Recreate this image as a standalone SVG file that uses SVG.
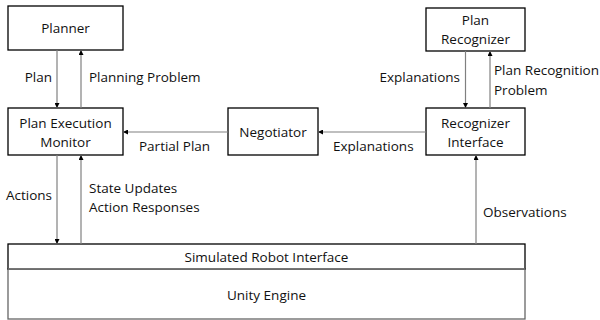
<svg xmlns="http://www.w3.org/2000/svg" width="600" height="320" viewBox="0 0 600 320">
<style>
.box{fill:#fff;stroke:#000;stroke-width:1.3}
.t{font-family:"Open Sans","Liberation Sans",sans-serif;font-size:13.5px;fill:#111}
.c{text-anchor:middle}
.ln{stroke:#808080;stroke-width:1.2;fill:none;marker-end:url(#ah)}
</style>
<defs>
<marker id="ah" viewBox="0 0 6 6" refX="6" refY="3" markerWidth="5" markerHeight="5" markerUnits="userSpaceOnUse" orient="auto">
<path d="M0,0 L6,3 L0,6 Z" fill="#000"/>
</marker>
</defs>
<g id="planner"><rect class="box" x="8" y="6" width="115" height="44"/><text class="t c" x="65.5" y="33">Planner</text></g>
<g id="pem"><rect class="box" x="8" y="108" width="115" height="47"/><text class="t c" x="65.5" y="128">Plan Execution</text><text class="t c" x="65.5" y="147">Monitor</text></g>
<g id="negotiator"><rect class="box" x="228" y="108" width="90" height="47"/><text class="t c" x="273" y="137">Negotiator</text></g>
<g id="recognizer-interface"><rect class="box" x="426" y="108" width="99" height="47"/><text class="t c" x="475.5" y="128">Recognizer</text><text class="t c" x="475.5" y="147">Interface</text></g>
<g id="plan-recognizer"><rect class="box" x="426" y="8" width="99" height="43"/><text class="t c" x="475.5" y="25">Plan</text><text class="t c" x="475.5" y="44">Recognizer</text></g>
<g id="robot"><rect x="8" y="269" width="517" height="50" fill="#fff" stroke="#666" stroke-width="1.3"/><rect class="box" x="8" y="244" width="517" height="25"/><line x1="8" y1="269" x2="525" y2="269" stroke="#808080" stroke-width="1.3"/><text class="t c" x="266.5" y="262">Simulated Robot Interface</text><text class="t c" x="266.5" y="300">Unity Engine</text></g>
<g id="connectors">
<line class="ln" x1="57" y1="50" x2="57" y2="108"/>
<line class="ln" x1="81" y1="108" x2="81" y2="50"/>
<line class="ln" x1="228" y1="132" x2="123" y2="132"/>
<line class="ln" x1="426" y1="132" x2="318" y2="132"/>
<line class="ln" x1="465.5" y1="51" x2="465.5" y2="108"/>
<line class="ln" x1="490" y1="108" x2="490" y2="51"/>
<line class="ln" x1="57" y1="155" x2="57" y2="244"/>
<line class="ln" x1="81" y1="244" x2="81" y2="155"/>
<line class="ln" x1="476" y1="244" x2="476" y2="155"/>
<text class="t" x="52" y="82" text-anchor="end">Plan</text>
<text class="t" x="89" y="82">Planning Problem</text>
<text class="t" x="139" y="151">Partial Plan</text>
<text class="t" x="333" y="151">Explanations</text>
<text class="t" x="460" y="82" text-anchor="end">Explanations</text>
<text class="t" x="494" y="75">Plan Recognition</text>
<text class="t" x="494" y="95">Problem</text>
<text class="t" x="52" y="200" text-anchor="end">Actions</text>
<text class="t" x="89" y="193">State Updates</text>
<text class="t" x="89" y="212">Action Responses</text>
<text class="t" x="483" y="217">Observations</text>
</g>
</svg>
